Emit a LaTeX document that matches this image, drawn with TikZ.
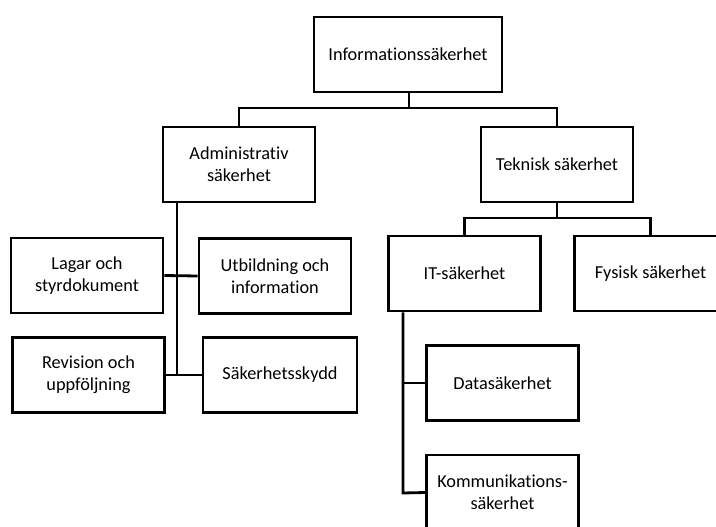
\documentclass[tikz,border=0pt]{standalone}
\usepackage{fontspec}
\setmainfont[Ligatures=NoCommon]{Carlito}
\begin{document}
\begin{tikzpicture}[x=1pt,y=-1pt,
  box/.style={draw=black, line width=2.8pt, fill=white, rectangle, inner sep=0pt,
    minimum width=152pt, minimum height=75pt, align=center,
    font=\fontsize{18.3}{22}\selectfont},
  conn/.style={draw=black, line width=2.8pt}]
\useasboundingbox (0,0) rectangle (716,527);
\clip (0,0) rectangle (716,527);
\fill[white] (0,0) rectangle (716,527);
% nodes
\node[box, minimum width=188pt] (info) at (408,54.5) {Informationssäkerhet};
\node[box] (admin) at (239,164.5) {Administrativ\\säkerhet};
\node[box] (tek) at (557,164.5) {Teknisk säkerhet};
\node[box] (lagar) at (87,275.5) {Lagar och\\styrdokument};
\node[box] (utb) at (275,276) {Utbildning och\\information};
\node[box] (rev) at (88.5,375) {Revision och\\uppföljning};
\node[box, minimum width=154pt] (sak) at (280,375) {Säkerhetsskydd};
\node[box] (it) at (464.5,273.5) {IT-säkerhet};
\node[box] (fys) at (650.5,273.5) {Fysisk säkerhet};
\node[box] (data) at (502.5,383) {Datasäkerhet};
\node[box] (komm) at (502.5,492.5) {Kommunikations-\\säkerhet};
% junction coordinates
\coordinate (j1) at (409,108);
\coordinate (j2) at (557,218);
\coordinate (atrunk) at (177,376);
\coordinate (ittrunk) at (403,493);
% connectors
\draw[conn] (info.south -| j1) -- (j1);
\draw[conn] (admin.north) |- (j1) -| (tek.north);
\draw[conn] (tek.south) -- (j2);
\draw[conn] (it.north) |- (j2) -| (fys.north);
\draw[conn] (admin.south -| atrunk) -- (atrunk);
\draw[conn] (lagar.east) -- (utb.west);
\draw[conn] (rev.east) -- (sak.west);
\draw[conn] (it.south -| ittrunk) -- (ittrunk) -- (komm.west);
\draw[conn] (data.west) -- (data.west -| ittrunk);
\end{tikzpicture}
\end{document}
